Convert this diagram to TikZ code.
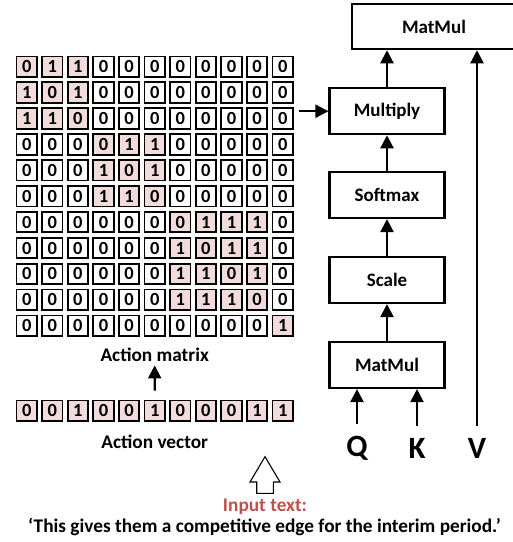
\documentclass[tikz,border=0pt]{standalone}
\usepackage{fontspec}
\setmainfont{Carlito}
\usetikzlibrary{arrows.meta}
\definecolor{cellpink}{HTML}{F2DCDB}
\definecolor{inred}{HTML}{C0504D}

\tikzset{
  cell/.style={draw, line width=1.8pt, minimum width=20.5pt, minimum height=20.5pt,
    inner sep=0pt, font=\fontsize{18.5}{18.5}\selectfont\bfseries},
  oncell/.style={cell, fill=cellpink},
  opbox/.style={draw, line width=2.1pt, minimum width=115pt, minimum height=46pt,
    inner sep=0pt, font=\fontsize{19}{19}\selectfont\bfseries},
  flow/.style={line width=2.1pt, -{Triangle[width=13pt,length=13pt]}},
  caption/.style={font=\fontsize{19.3}{19.3}\selectfont\bfseries},
  qkv/.style={font=\fontsize{31}{31}\selectfont\bfseries}
}

\begin{document}
\begin{tikzpicture}[x=1pt, y=-1pt]
\useasboundingbox (0,0) rectangle (513,542);
\clip (0,0) rectangle (513,542);

% action matrix: row / first shaded col / last shaded col / entries
\foreach \r/\lo/\hi/\row in {
  1/1/3/{0,1,1,0,0,0,0,0,0,0,0},
  2/1/3/{1,0,1,0,0,0,0,0,0,0,0},
  3/1/3/{1,1,0,0,0,0,0,0,0,0,0},
  4/4/6/{0,0,0,0,1,1,0,0,0,0,0},
  5/4/6/{0,0,0,1,0,1,0,0,0,0,0},
  6/4/6/{0,0,0,1,1,0,0,0,0,0,0},
  7/7/10/{0,0,0,0,0,0,0,1,1,1,0},
  8/7/10/{0,0,0,0,0,0,1,0,1,1,0},
  9/7/10/{0,0,0,0,0,0,1,1,0,1,0},
  10/7/10/{0,0,0,0,0,0,1,1,1,0,0},
  11/11/11/{0,0,0,0,0,0,0,0,0,0,1}} {
  \foreach \v [count=\c] in \row {
    \pgfmathtruncatemacro\on{and(\c>=\lo,\c<=\hi)}
    \ifnum\on=1
      \node[oncell] (m-\r-\c) at ({26.7+(\c-1)*25.6},{66.7+(\r-1)*25.9}) {\v};
    \else
      \node[cell] (m-\r-\c) at ({26.7+(\c-1)*25.6},{66.7+(\r-1)*25.9}) {\v};
    \fi
  }
}

% action vector
\foreach \v [count=\c] in {0,0,1,0,0,1,0,0,0,1,1}
  \node[oncell] (v-\c) at ({26.7+(\c-1)*25.6},410.7) {\v};

\node[caption] (matlabel) at (154.7,355) {Action matrix};
\node[caption] (veclabel) at (154.7,442) {Action vector};
\draw[flow] ([yshift=9pt]v-6.north) -- (matlabel.south);

% attention block
\node[draw, line width=2.1pt, minimum width=164pt, minimum height=45pt, inner sep=0pt,
  font=\fontsize{19}{19}\selectfont\bfseries] (top) at (434,26.7) {MatMul};
\node[opbox] (mul)   at (387,111.2) {Multiply};
\node[opbox] (soft)  at (387,195)   {Softmax};
\node[opbox] (scale) at (387,280)   {Scale};
\node[opbox] (mm)    at (387,365)   {MatMul};

\node[qkv] (Q) at (357,448) {Q};
\node[qkv] (K) at (417,448) {K};
\node[qkv] (V) at (477,448) {V};

\draw[flow] (mm.north) -- (scale.south);
\draw[flow] (scale.north) -- (soft.south);
\draw[flow] (soft.north) -- (mul.south);
\draw[flow] (mul.north) -- (mul.north |- top.south);
\draw[flow] ([yshift=8pt]Q.north) -- (Q.north |- mm.south);
\draw[flow] ([yshift=8pt]K.north) -- (K.north |- mm.south);
\draw[flow] ([yshift=8pt]V.north) -- (V.north |- top.south);

\coordinate (tap) at (299,111.2);
\draw[flow] (tap) -- (mul.west);

% hollow input arrow
\draw[line width=1.1pt, fill=white]
  (265,456.7) -- (280,482) -- (273.3,482) -- (273.3,493.3)
  -- (256.7,493.3) -- (256.7,482) -- (250,482) -- cycle;

\node[caption, text=inred] (intitle) at (265,507) {Input text:};
\node[caption] (intext) at (264.5,527) {‘This gives them a competitive edge for the interim period.’};
\end{tikzpicture}
\end{document}
